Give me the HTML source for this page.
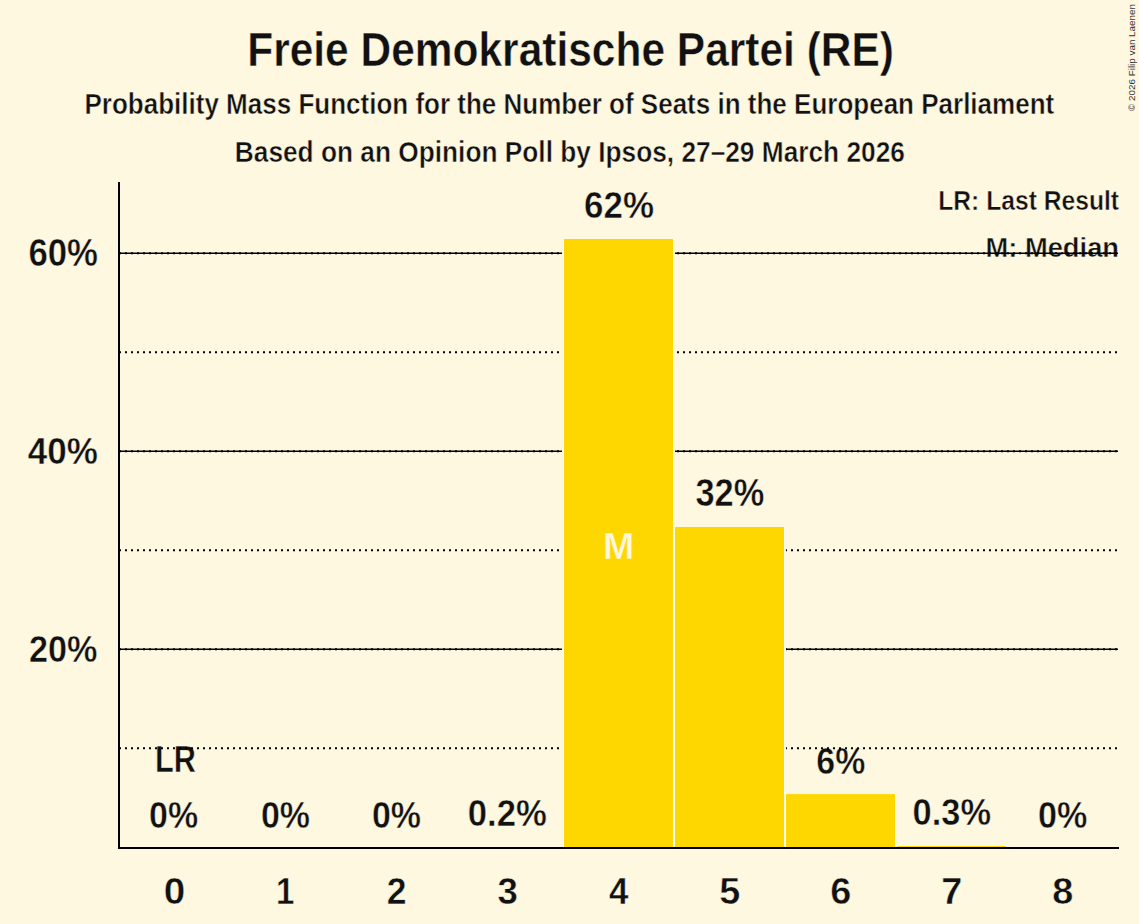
<!DOCTYPE html>
<html><head><meta charset="utf-8"><title>Freie Demokratische Partei (RE)</title>
<style>html,body{margin:0;padding:0;background:#FFF8E1;} svg{display:block;}</style>
</head><body>
<svg width="1139" height="924" viewBox="0 0 1139 924" font-family='"Liberation Sans", sans-serif' font-weight="bold">
<rect x="0" y="0" width="1139" height="924" fill="#FFF8E1"/>
<text stroke="#FFF8E1" stroke-width="0.45" transform="translate(247.20,66.00) scale(0.8748,1)" font-size="48.55" fill="#111111">Freie Demokratische Partei (RE)</text>
<text stroke="#FFF8E1" stroke-width="0.45" transform="translate(84.50,114.10) scale(0.8949,1)" font-size="29.07" fill="#111111">Probability Mass Function for the Number of Seats in the European Parliament</text>
<text stroke="#FFF8E1" stroke-width="0.45" transform="translate(234.80,161.60) scale(0.9131,1)" font-size="28.78" fill="#111111">Based on an Opinion Poll by Ipsos, 27–29 March 2026</text>
<text stroke="#FFF8E1" stroke-width="0.45" transform="translate(938.20,209.50) scale(0.8796,1)" font-size="28.05" fill="#111111">LR: Last Result</text>
<text stroke="#FFF8E1" stroke-width="0.45" transform="translate(985.50,257.30) scale(0.9691,1)" font-size="28.20" fill="#111111">M: Median</text>
<text stroke="#FFF8E1" stroke-width="0.45" transform="translate(155.00,772.10) scale(0.8174,1)" font-size="37.50" fill="#111111">LR</text>
<text stroke="#FFF8E1" stroke-width="0.45" transform="translate(28.40,265.60) scale(0.9053,1)" font-size="38.40" fill="#111111">60%</text>
<text stroke="#FFF8E1" stroke-width="0.45" transform="translate(27.70,463.50) scale(0.9405,1)" font-size="37.25" fill="#111111">40%</text>
<text stroke="#FFF8E1" stroke-width="0.45" transform="translate(29.00,661.70) scale(0.9111,1)" font-size="37.54" fill="#111111">20%</text>
<text stroke="#FFF8E1" stroke-width="0.45" transform="translate(584.10,217.90) scale(0.9379,1)" font-size="37.25" fill="#111111">62%</text>
<text stroke="#FFF8E1" stroke-width="0.45" transform="translate(695.40,506.40) scale(0.9000,1)" font-size="38.25" fill="#111111">32%</text>
<text stroke="#FFF8E1" stroke-width="0.45" transform="translate(816.30,773.50) scale(0.9057,1)" font-size="37.39" fill="#111111">6%</text>
<text stroke="#FFF8E1" stroke-width="0.45" transform="translate(149.00,827.70) scale(0.9194,1)" font-size="36.96" fill="#111111">0%</text>
<text stroke="#FFF8E1" stroke-width="0.45" transform="translate(260.90,827.70) scale(0.9194,1)" font-size="36.96" fill="#111111">0%</text>
<text stroke="#FFF8E1" stroke-width="0.45" transform="translate(371.90,827.70) scale(0.9194,1)" font-size="36.96" fill="#111111">0%</text>
<text stroke="#FFF8E1" stroke-width="0.45" transform="translate(467.80,826.20) scale(0.9272,1)" font-size="37.39" fill="#111111">0.2%</text>
<text stroke="#FFF8E1" stroke-width="0.45" transform="translate(912.60,825.10) scale(0.9238,1)" font-size="37.25" fill="#111111">0.3%</text>
<text stroke="#FFF8E1" stroke-width="0.45" transform="translate(1038.10,827.80) scale(0.9347,1)" font-size="36.53" fill="#111111">0%</text>
<text stroke="#FFF8E1" stroke-width="0.45" transform="translate(163.85,904.00) scale(1.0213,1)" font-size="37.82" fill="#111111">0</text>
<text stroke="#FFF8E1" stroke-width="0.45" transform="translate(276.10,904.00) scale(0.8748,1)" font-size="37.82" fill="#111111">1</text>
<text stroke="#FFF8E1" stroke-width="0.45" transform="translate(386.80,904.00) scale(0.9404,1)" font-size="37.82" fill="#111111">2</text>
<text stroke="#FFF8E1" stroke-width="0.45" transform="translate(497.60,904.00) scale(0.9701,1)" font-size="37.82" fill="#111111">3</text>
<text stroke="#FFF8E1" stroke-width="0.45" transform="translate(609.10,904.00) scale(0.9253,1)" font-size="37.82" fill="#111111">4</text>
<text stroke="#FFF8E1" stroke-width="0.45" transform="translate(719.15,904.00) scale(1.0007,1)" font-size="37.82" fill="#111111">5</text>
<text stroke="#FFF8E1" stroke-width="0.45" transform="translate(830.15,904.00) scale(1.0007,1)" font-size="37.82" fill="#111111">6</text>
<text stroke="#FFF8E1" stroke-width="0.45" transform="translate(941.15,904.00) scale(1.0007,1)" font-size="37.82" fill="#111111">7</text>
<text stroke="#FFF8E1" stroke-width="0.45" transform="translate(1052.15,904.00) scale(1.0007,1)" font-size="37.82" fill="#111111">8</text>
<text transform="translate(1135,110.9) rotate(-90)" font-size="9.85" font-weight="normal" fill="#333">© 2026 Filip van Laenen</text>
<line x1="119" y1="748.30" x2="1118" y2="748.30" stroke="#000" stroke-width="2" stroke-dasharray="2,4"/>
<line x1="119" y1="550.30" x2="1118" y2="550.30" stroke="#000" stroke-width="2" stroke-dasharray="2,4"/>
<line x1="119" y1="352.30" x2="1118" y2="352.30" stroke="#000" stroke-width="2" stroke-dasharray="2,4"/>
<line x1="119" y1="649.30" x2="1118" y2="649.30" stroke="#000" stroke-width="1.6"/>
<line x1="119" y1="649.30" x2="1118" y2="649.30" stroke="#000" stroke-width="2" stroke-dasharray="2,4"/>
<line x1="119" y1="451.30" x2="1118" y2="451.30" stroke="#000" stroke-width="1.6"/>
<line x1="119" y1="451.30" x2="1118" y2="451.30" stroke="#000" stroke-width="2" stroke-dasharray="2,4"/>
<line x1="119" y1="253.30" x2="1118" y2="253.30" stroke="#000" stroke-width="1.6"/>
<line x1="119" y1="253.30" x2="1118" y2="253.30" stroke="#000" stroke-width="2" stroke-dasharray="2,4"/>
<rect x="562" y="239.00" width="113" height="608.00" fill="#FFF8E1"/>
<rect x="563" y="239.00" width="111" height="608.00" fill="#FFFFF8"/>
<rect x="673" y="527.00" width="113" height="320.00" fill="#FFF8E1"/>
<rect x="674" y="527.00" width="111" height="320.00" fill="#FFFFF8"/>
<rect x="784" y="794.10" width="113" height="52.90" fill="#FFF8E1"/>
<rect x="785" y="794.10" width="111" height="52.90" fill="#FFFFF8"/>
<rect x="895" y="846.00" width="113" height="1.00" fill="#FFF8E1"/>
<rect x="896" y="846.00" width="111" height="1.00" fill="#FFFFF8"/>
<rect x="564" y="239.00" width="109" height="608.00" fill="#FFD700"/>
<rect x="675" y="527.00" width="109" height="320.00" fill="#FFD700"/>
<rect x="786" y="794.10" width="109" height="52.90" fill="#FFD700"/>
<rect x="897" y="846.00" width="109" height="1.00" fill="#FFD700"/>
<rect x="118" y="182" width="2" height="667" fill="#000"/>
<rect x="118" y="847" width="1001" height="2" fill="#000"/>
<text stroke="#FFD700" stroke-width="0.45" transform="translate(603.00,558.90) scale(1.0000,1)" font-size="37.65" fill="#FFF8E1">M</text>
</svg>
</body></html>
